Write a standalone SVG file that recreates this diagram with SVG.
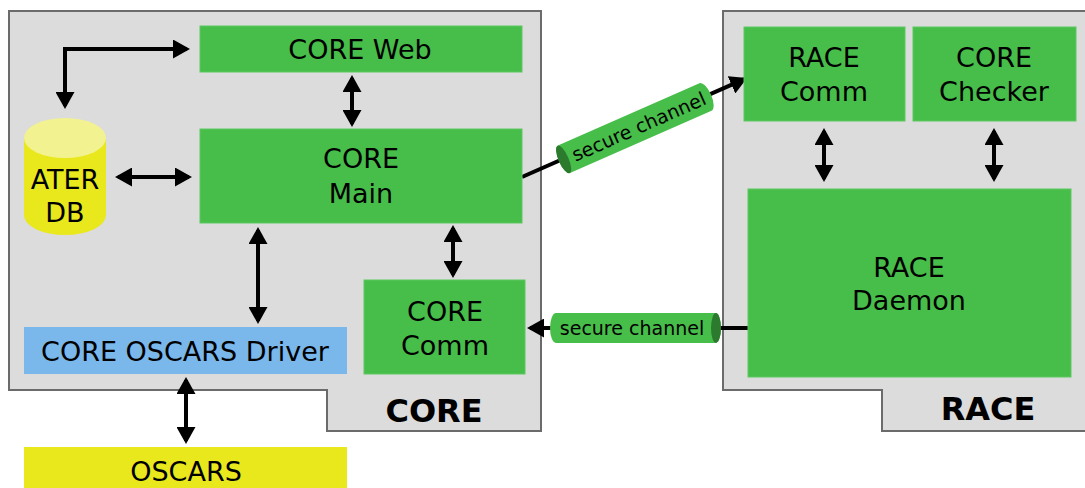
<svg xmlns="http://www.w3.org/2000/svg" width="1085" height="488" viewBox="0 0 1085 488">
  <style>
    .box { fill: #47bd4a; stroke: #5cc85e; stroke-width: 1; }
    .frame { fill: #dcdcdc; stroke: #6b6b6b; stroke-width: 2; }
    .lbl { font-family: "DejaVu Sans", sans-serif; font-size: 27px; fill: #000; text-anchor: middle; }
    .title { font-family: "DejaVu Sans", sans-serif; font-size: 32px; font-weight: bold; fill: #000; text-anchor: middle; }
    .ch { font-family: "DejaVu Sans", sans-serif; font-size: 19px; fill: #000; text-anchor: middle; }
    .link { fill: none; stroke: #000; stroke-width: 4; }
    .pipe { fill: #47bd4a; }
    .pipe-end { fill: #2b7a2e; }
  </style>
  <defs>
    <marker id="head" viewBox="0 0 17 19" refX="14" refY="9.5" markerWidth="17" markerHeight="19" markerUnits="userSpaceOnUse" orient="auto-start-reverse">
      <path d="M0,0 L17,9.5 L0,19 z" fill="#000"/>
    </marker>
  </defs>

  <rect width="1085" height="488" fill="#ffffff"/>

  <!-- system frames -->
  <g id="core-frame">
    <path class="frame" d="M9,11 H541 V431 H327 V390 H9 Z"/>
    <text class="title" x="434" y="422">CORE</text>
  </g>
  <g id="race-frame">
    <path class="frame" d="M723,11 H1090 V431 H882 V390 H723 Z"/>
    <text class="title" x="988" y="420">RACE</text>
  </g>

  <!-- connectors -->
  <g id="connectors">
    <path class="link" d="M65,106 V49 H187" marker-start="url(#head)" marker-end="url(#head)"/>
    <path class="link" d="M118,177 H189" marker-start="url(#head)" marker-end="url(#head)"/>
    <path class="link" d="M352,78 V124" marker-start="url(#head)" marker-end="url(#head)"/>
    <path class="link" d="M258,230 V321" marker-start="url(#head)" marker-end="url(#head)"/>
    <path class="link" d="M453,228 V275" marker-start="url(#head)" marker-end="url(#head)"/>
    <path class="link" d="M186,380 V441" marker-start="url(#head)" marker-end="url(#head)"/>
    <path class="link" d="M824,131 V179" marker-start="url(#head)" marker-end="url(#head)"/>
    <path class="link" d="M994,131 V179" marker-start="url(#head)" marker-end="url(#head)"/>
    <!-- secure channel CORE Main -> RACE Comm -->
    <path class="link" d="M522,177 L744.3,79.2" marker-end="url(#head)"/>
    <g transform="translate(635,128) rotate(-23.75)">
      <rect class="pipe" x="-83" y="-15" width="166" height="30" rx="6" ry="15"/>
      <ellipse class="pipe-end" cx="-78" cy="0" rx="5" ry="15"/>
      <text class="ch" x="4" y="7">secure channel</text>
    </g>
    <!-- secure channel RACE Daemon -> CORE Comm -->
    <path class="link" d="M750,328 H530" marker-end="url(#head)"/>
    <rect class="pipe" x="550" y="313" width="171" height="30" rx="6" ry="15"/>
    <ellipse class="pipe-end" cx="716" cy="328" rx="5" ry="15"/>
    <text class="ch" x="632" y="335">secure channel</text>
  </g>

  <!-- nodes -->
  <g id="core-web">
    <rect class="box" x="200" y="26" width="322" height="46"/>
    <text class="lbl" x="360" y="59">CORE Web</text>
  </g>
  <g id="core-main">
    <rect class="box" x="200" y="129" width="322" height="94"/>
    <text class="lbl" x="361" y="168">CORE</text>
    <text class="lbl" x="361" y="203">Main</text>
  </g>
  <g id="ater-db">
    <path d="M24,138 V215 A41,20 0 0 0 106,215 V138 Z" fill="#e8e81c"/>
    <ellipse cx="65" cy="138" rx="41" ry="20" fill="#f2f291"/>
    <text class="lbl" x="65" y="189">ATER</text>
    <text class="lbl" x="65" y="222">DB</text>
  </g>
  <g id="core-comm">
    <rect class="box" x="364" y="280" width="161" height="94"/>
    <text class="lbl" x="445" y="321">CORE</text>
    <text class="lbl" x="445" y="355">Comm</text>
  </g>
  <g id="core-oscars-driver">
    <rect x="24" y="327" width="323" height="47" fill="#7ab8ec"/>
    <text class="lbl" x="185" y="361">CORE OSCARS Driver</text>
  </g>
  <g id="oscars">
    <rect x="24" y="447" width="323" height="41" fill="#e8e81c"/>
    <text class="lbl" x="186" y="481">OSCARS</text>
  </g>
  <g id="race-comm">
    <rect class="box" x="744" y="27" width="161" height="94"/>
    <text class="lbl" x="824" y="67">RACE</text>
    <text class="lbl" x="824" y="101">Comm</text>
  </g>
  <g id="core-checker">
    <rect class="box" x="913" y="27" width="163" height="94"/>
    <text class="lbl" x="994" y="67">CORE</text>
    <text class="lbl" x="994" y="101">Checker</text>
  </g>
  <g id="race-daemon">
    <rect class="box" x="748" y="189" width="323" height="188"/>
    <text class="lbl" x="909" y="277">RACE</text>
    <text class="lbl" x="909" y="310">Daemon</text>
  </g>
</svg>
